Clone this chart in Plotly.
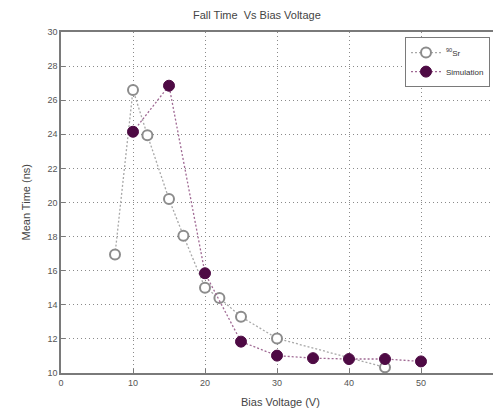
import plotly.graph_objects as go

# Data
sr_voltage = [7.5, 10, 12, 15, 17, 20, 22, 25, 30, 45]
sr_time = [16.95, 26.6, 23.95, 20.2, 18.05, 15.0, 14.4, 13.3, 12.03, 10.33]

sim_voltage = [10, 15, 20, 25, 30, 35, 40, 45, 50]
sim_time = [24.15, 26.85, 15.85, 11.84, 11.02, 10.87, 10.82, 10.82, 10.68]

x_ticks = [0, 10, 20, 30, 40, 50, 60]
y_ticks = [10, 12, 14, 16, 18, 20, 22, 24, 26, 28, 30]

W, H = 493, 411
ML, MR, MT, MB = 61, 0, 32, 38

fig = go.Figure()
fig.add_trace(go.Scatter(
    x=sr_voltage, y=sr_time, mode="lines+markers", name="<sup>90</sup>Sr",
    line=dict(color="#a8a8a8", width=1.3, dash="2px,2px"),
    marker=dict(symbol="circle", size=10, color="white",
                line=dict(color="#8c8c8c", width=2)),
))
fig.add_trace(go.Scatter(
    x=sim_voltage, y=sim_time, mode="lines+markers", name="Simulation",
    line=dict(color="#a06a94", width=1.3, dash="2px,2px"),
    marker=dict(symbol="circle", size=11, color="#4e0a44",
                line=dict(color="#4e0a44", width=1)),
))

axis_common = dict(
    showgrid=True, gridcolor="#8a8a8a", griddash="1px,3px", gridwidth=1,
    showline=True, linecolor="#7a7a7a", linewidth=1.5, mirror=True,
    ticks="inside", ticklen=4, tickcolor="#7a7a7a",
    tickfont=dict(family="Liberation Sans, Arial", size=9, color="#555555"),
    zeroline=False, automargin=False,
)

fig.update_layout(
    width=W, height=H,
    margin=dict(l=ML, r=MR, t=MT, b=MB, autoexpand=False),
    paper_bgcolor="white", plot_bgcolor="white",
    showlegend=True,
    xaxis=dict(range=[0, 60], tickvals=x_ticks, ticktext=[str(v) for v in x_ticks], **axis_common),
    yaxis=dict(range=[10, 30], tickvals=y_ticks, ticktext=[str(v) for v in y_ticks], **axis_common),
    legend=dict(
        x=(490 - ML) / (W - ML - MR), y=0.985, xanchor="right", yanchor="top",
        bordercolor="#7a7a7a", borderwidth=1, bgcolor="white",
        font=dict(family="Liberation Sans, Arial", size=8, color="#333333"),
        itemwidth=30, tracegroupgap=0,
    ),
    annotations=[
        dict(text="Fall Time  Vs Bias Voltage", xref="paper", yref="paper",
             x=(257 - ML) / (W - ML - MR), y=1 + (MT - 15) / (H - MT - MB),
             xanchor="center", yanchor="middle", showarrow=False,
             font=dict(family="Liberation Sans, Arial", size=11, color="#444444")),
        dict(text="Bias Voltage (V)", xref="paper", yref="paper",
             x=(280 - ML) / (W - ML - MR), y=-(402 - (H - MB)) / (H - MT - MB),
             xanchor="center", yanchor="middle", showarrow=False,
             font=dict(family="Liberation Sans, Arial", size=11, color="#444444")),
        dict(text="Mean Time (ns)", xref="paper", yref="paper",
             x=-(ML - 25) / (W - ML - MR), y=0.5, textangle=-90,
             xanchor="center", yanchor="middle", showarrow=False,
             font=dict(family="Liberation Sans, Arial", size=11, color="#444444")),
    ],
)

fig.write_html("out.html")
